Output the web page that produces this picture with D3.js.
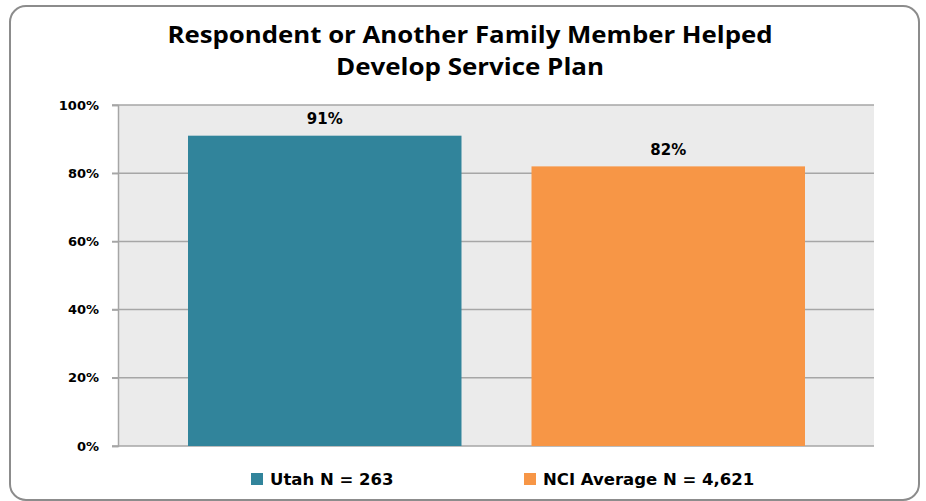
<!DOCTYPE html>
<html>
<head>
	<script src="https://cdn.jsdelivr.net/npm/d3@7/dist/d3.min.js"></script>
	<style>
		html, body { padding: 0; margin: 0; background: #ffffff; }
	</style>
</head>
<body>
	<script>
		var categories = ["Utah N = 263", "NCI Average N = 4,621"];
		var values = [0.91, 0.82];
		var valueLabels = ["91%", "82%"];
		var colors = ["#31849b", "#f79646"];
		var tickValues = [0, 0.2, 0.4, 0.6, 0.8, 1.0];
		var titleLines = ["Respondent or Another Family Member Helped", "Develop Service Plan"];

		var width = 926, height = 501;
		var plot = { left: 118, right: 874, top: 105, bottom: 446 };

		var svg = d3.select('body').append('svg')
			.attr('width', width)
			.attr('height', height);

		// outer frame
		svg.append('rect')
			.attr('x', 10).attr('y', 6)
			.attr('width', 909).attr('height', 494)
			.attr('rx', 16).attr('ry', 16)
			.attr('fill', '#ffffff')
			.attr('stroke', '#8c8c8c')
			.attr('stroke-width', 2);

		// title
		svg.append('text')
			.attr('text-anchor', 'middle')
			.attr('font-family', 'Open Sans, sans-serif')
			.attr('font-weight', 'bold')
			.attr('font-size', 24)
			.attr('fill', '#000')
			.selectAll('tspan')
			.data(titleLines)
			.join('tspan')
			.attr('x', 470)
			.attr('y', function(d, i) { return 43 + i * 32; })
			.attr('textLength', function(d, i) { return i === 0 ? 605 : 268; })
			.attr('lengthAdjust', 'spacingAndGlyphs')
			.text(function(d) { return d; });

		var y = d3.scaleLinear().domain([0, 1]).range([plot.bottom, plot.top]);
		var x = d3.scaleBand().domain(categories).range([188, 805]).paddingInner(0.2038).paddingOuter(0);

		// plot background
		svg.append('rect')
			.attr('x', plot.left).attr('y', plot.top)
			.attr('width', plot.right - plot.left).attr('height', plot.bottom - plot.top)
			.attr('fill', '#ebebeb');

		// gridlines
		svg.append('g')
			.selectAll('line')
			.data(tickValues)
			.join('line')
			.attr('x1', plot.left - 6).attr('x2', plot.right)
			.attr('y1', function(d) { return y(d); })
			.attr('y2', function(d) { return y(d); })
			.attr('stroke', '#a6a6a6')
			.attr('stroke-width', 1.5);

		// y axis
		var yAxis = svg.append('g')
			.attr('transform', 'translate(' + plot.left + ',0)')
			.call(d3.axisLeft(y).tickValues(tickValues).tickSize(6).tickPadding(13).tickFormat(d3.format('.0%')));
		yAxis.select('.domain').attr('stroke', '#a6a6a6').attr('stroke-width', 1.5);
		yAxis.selectAll('.tick line').attr('stroke', '#a6a6a6').attr('stroke-width', 1.5);
		yAxis.selectAll('.tick text')
			.attr('font-family', 'DejaVu Sans, Verdana, sans-serif')
			.attr('font-weight', 'bold')
			.attr('font-size', 13)
			.attr('fill', '#000');

		// bars
		svg.append('g')
			.selectAll('rect')
			.data(values)
			.join('rect')
			.attr('x', function(d, i) { return x(categories[i]); })
			.attr('y', function(d) { return y(d); })
			.attr('width', x.bandwidth())
			.attr('height', function(d) { return y(0) - y(d); })
			.attr('fill', function(d, i) { return colors[i]; });

		// value labels
		svg.append('g')
			.selectAll('text')
			.data(values)
			.join('text')
			.attr('x', function(d, i) { return x(categories[i]) + x.bandwidth() / 2; })
			.attr('y', function(d) { return y(d) - 11.5; })
			.attr('text-anchor', 'middle')
			.attr('font-family', 'DejaVu Sans, Verdana, sans-serif')
			.attr('font-weight', 'bold')
			.attr('font-size', 15)
			.attr('fill', '#000')
			.text(function(d, i) { return valueLabels[i]; });

		// legend
		var legendX = [251, 524];
		var legend = svg.append('g')
			.selectAll('g')
			.data(categories)
			.join('g')
			.attr('transform', function(d, i) { return 'translate(' + legendX[i] + ',479)'; });
		legend.append('rect')
			.attr('x', 0).attr('y', -6)
			.attr('width', 12).attr('height', 12)
			.attr('fill', function(d, i) { return colors[i]; });
		legend.append('text')
			.attr('x', 19).attr('y', 6)
			.attr('font-family', 'DejaVu Sans, Verdana, sans-serif')
			.attr('font-weight', 'bold')
			.attr('font-size', 16.5)
			.attr('fill', '#000')
			.text(function(d) { return d; });
	</script>
</body>
</html>
